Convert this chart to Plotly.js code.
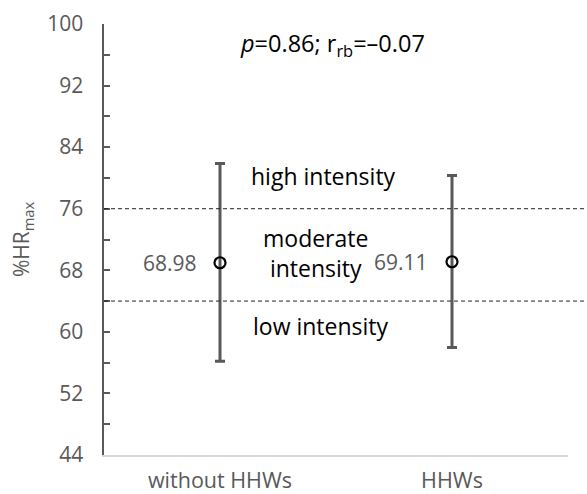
<!DOCTYPE html>
<html>
<head>
<meta charset="utf-8">
<script src="https://cdn.plot.ly/plotly-3.0.1.min.js"></script>
<style>html,body{margin:0;padding:0;background:#fff;}#chart{width:587px;height:494px;}</style>
</head>
<body>
<div id="chart"></div>
<script>
const categories = ["without HHWs", "HHWs"];
const means = [68.98, 69.11];
const errUp = [12.9, 11.2];
const errDown = [12.8, 11.15];
const meanLabels = ["68.98", "69.11"];
const thresholds = [76, 64];
const zoneLabels = ["high intensity", "moderate<br>intensity", "low intensity"];
const zoneY = [80.3, 70.3, 60.8];
const yTicks = [44, 52, 60, 68, 76, 84, 92, 100];

const FONT = "Open Sans, Liberation Sans, sans-serif";
const GRAY = "#595959";

const trace = {
  type: "scatter",
  mode: "markers",
  x: categories,
  y: means,
  marker: {symbol: "circle-open", size: 11, color: "#000", line: {width: 2.2, color: "#000"}},
  error_y: {type: "data", symmetric: false, array: errUp, arrayminus: errDown,
            color: GRAY, thickness: 3, width: 5},
  showlegend: false,
  hoverinfo: "skip"
};

const shapes = thresholds.map(t => ({
  type: "line", xref: "paper", yref: "y", x0: 0, x1: 1.05, y0: t, y1: t,
  line: {color: "#222", width: 1, dash: "4px,3px"}
}));

const labelX = [0.472, 0.455, 0.467];
const annotations = zoneLabels.map((txt, i) => ({
  xref: "paper", yref: "y", x: labelX[i], y: zoneY[i], text: txt, showarrow: false,
  xanchor: "center", yanchor: "middle",
  font: {family: FONT, size: 23, color: "#000"}, align: "center"
}));
const meanLabelX = [0.142, 0.64];
meanLabels.forEach((txt, i) => annotations.push({
  xref: "paper", yref: "y", x: meanLabelX[i], y: means[i], text: txt, showarrow: false,
  xanchor: "center", yanchor: "middle",
  font: {family: FONT, size: 21, color: GRAY}
}));
annotations.push({
  xref: "paper", yref: "y", x: 0.493, y: 97.3,
  text: "<i>p</i>=0.86; r<sub>rb</sub>=–0.07", showarrow: false,
  xanchor: "center", yanchor: "middle",
  font: {family: FONT, size: 23.5, color: "#000"}
});

const layout = {
  width: 587, height: 494,
  margin: {l: 104, r: 19, t: 24, b: 39},
  paper_bgcolor: "#fff", plot_bgcolor: "#fff",
  font: {family: FONT},
  xaxis: {
    type: "category", range: [-0.5, 1.5], showgrid: false, zeroline: false,
    showline: true, linecolor: "#d9d9d9", linewidth: 2, ticks: "",
    tickfont: {family: FONT, size: 21.5, color: GRAY}, ticklabelstandoff: 5
  },
  yaxis: {
    range: [44, 100], tickvals: yTicks, showgrid: false, zeroline: false,
    showline: true, linecolor: GRAY, linewidth: 2.5,
    ticks: "inside", ticklen: 6, tickwidth: 2, tickcolor: GRAY,
    minor: {dtick: 4, tick0: 44, ticks: "inside", ticklen: 6, tickwidth: 2, tickcolor: GRAY},
    tickfont: {family: FONT, size: 21, color: GRAY}, ticklabelstandoff: 14,
    title: {text: "%HR<sub>max</sub>", font: {family: FONT, size: 21, color: GRAY}, standoff: 12}
  },
  shapes: shapes,
  annotations: annotations
};

Plotly.newPlot("chart", [trace], layout, {displayModeBar: false, staticPlot: true});
</script>
</body>
</html>
